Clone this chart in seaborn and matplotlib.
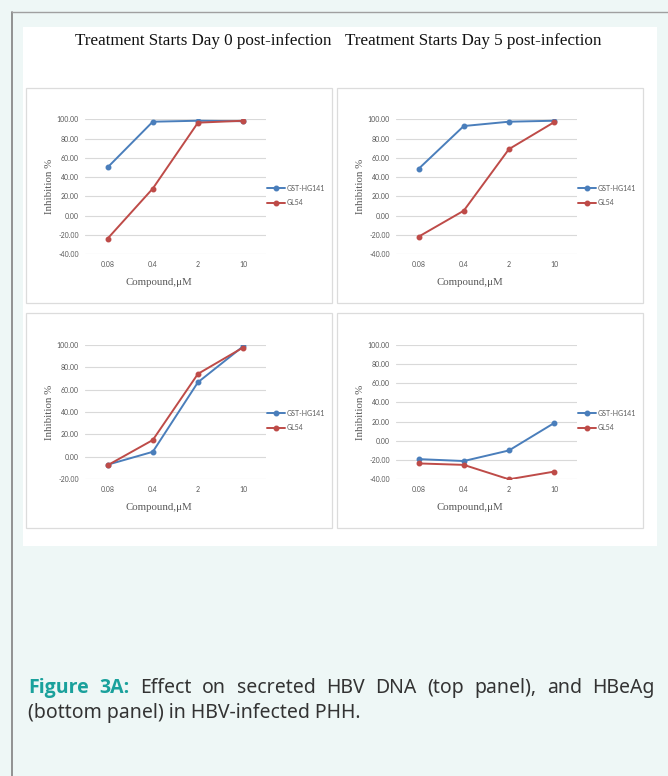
import matplotlib
matplotlib.use("Agg")
import matplotlib.pyplot as plt
import seaborn as sns
import pandas as pd
from matplotlib.patches import Rectangle
from matplotlib.lines import Line2D

# ---------------- data ----------------
concentrations = ["0.08", "0.4", "2", "10"]
series_names = ["GST-HG141", "GL54"]

dna_day0_gst = [50.0, 97.5, 98.5, 98.0]
dna_day0_gl54 = [-24.0, 28.0, 96.5, 98.5]
dna_day5_gst = [48.5, 93.0, 97.5, 98.5]
dna_day5_gl54 = [-22.0, 5.0, 69.0, 97.0]
hbeag_day0_gst = [-7.0, 4.5, 66.5, 98.5]
hbeag_day0_gl54 = [-7.5, 15.0, 74.0, 97.5]
hbeag_day5_gst = [-19.0, -21.0, -10.0, 18.5]
hbeag_day5_gl54 = [-23.5, -25.0, -40.0, -32.0]

y_ranges = [(-40, 100), (-40, 100), (-20, 100), (-40, 100)]
y_ticks = [[-40, -20, 0, 20, 40, 60, 80, 100],
           [-40, -20, 0, 20, 40, 60, 80, 100],
           [-20, 0, 20, 40, 60, 80, 100],
           [-40, -20, 0, 20, 40, 60, 80, 100]]

title_left = "Treatment Starts Day 0 post-infection"
title_right = "Treatment Starts Day 5 post-infection"
x_title = "Compound,μM"
y_title = "Inhibition %"
caption_bold = "Figure 3A:"
caption_line1 = "Effect on secreted HBV DNA (top panel), and HBeAg"
caption_line2 = "(bottom panel) in HBV-infected PHH."

# ---------------- figure ----------------
sns.set_theme(style="white")
plt.rcParams['font.family'] = ['Lato', 'DejaVu Sans']

W, H = 668, 776
fig = plt.figure(figsize=(W / 100, H / 100), dpi=100)
PAGE = "#eef7f6"
fig.patch.set_facecolor(PAGE)

def fx(x):
    return x / W

def fy(y):
    return 1 - y / H

def rect_px(x0, y0, x1, y1, **kw):
    fig.patches.append(Rectangle((fx(x0), fy(y1)), fx(x1) - fx(x0), fy(y0) - fy(y1),
                                 transform=fig.transFigure, **kw))

# page border lines
fig.add_artist(Line2D([fx(12.3), fx(12.3)], [fy(12.3), 0], transform=fig.transFigure,
                      color="#8a8a8a", lw=1.3, zorder=-3))
fig.add_artist(Line2D([fx(12.3), 1], [fy(12.3), fy(12.3)], transform=fig.transFigure,
                      color="#a0a0a0", lw=1.0, zorder=-3))

# white panel
rect_px(22.7, 27.3, 657.3, 545.7, facecolor="white", edgecolor="none", zorder=-2)

# chart boxes
boxes = [(26, 87.7, 331.7, 303.3), (337.3, 87.7, 643.3, 303.3),
         (26, 312.7, 331.7, 528.3), (337.3, 312.7, 643.3, 528.3)]
for b in boxes:
    rect_px(*b, facecolor="white", edgecolor="#dcdcdc", lw=0.9, zorder=-1)

# titles
fig.text(fx(75), fy(41), title_left, family="Liberation Serif", fontsize=12.25,
         color="#111111", ha="left", va="center")
fig.text(fx(345), fy(41), title_right, family="Liberation Serif", fontsize=12.25,
         color="#111111", ha="left", va="center")

# axes geometry (pixels): x0, x1, ytop, ybottom
axes_px = [(85, 265.7, 119.3, 254.0), (396, 576.7, 119.3, 254.0),
           (85, 265.7, 344.7, 479.3), (396, 576.7, 344.7, 479.3)]
xlabel_y = [282.3, 282.3, 507.5, 507.0]
ylabel_x = [49.3, 360.2, 49.3, 360.2]
data_sets = [(dna_day0_gst, dna_day0_gl54), (dna_day5_gst, dna_day5_gl54),
             (hbeag_day0_gst, hbeag_day0_gl54), (hbeag_day5_gst, hbeag_day5_gl54)]
legend_pos = [(267, 195.5), (578, 195.5), (267, 420.5), (578, 420.5)]

palette = {"GST-HG141": "#4a7ebb", "GL54": "#be4b48"}
GRAY = "#595959"

for (x0, x1, yt, yb), (gst, gl), yr, yt_list, lp, xly, ylx in zip(
        axes_px, data_sets, y_ranges, y_ticks, legend_pos, xlabel_y, ylabel_x):
    ax = fig.add_axes([fx(x0), fy(yb), fx(x1) - fx(x0), fy(yt) - fy(yb)])
    ax.set_facecolor("none")
    df = pd.DataFrame({
        "conc": concentrations * 2,
        "value": gst + gl,
        "series": [series_names[0]] * 4 + [series_names[1]] * 4,
    })
    sns.pointplot(data=df, x="conc", y="value", hue="series", order=concentrations,
                  hue_order=series_names, palette=palette, markers="o",
                  markersize=3.2, linewidth=1.4, errorbar=None, ax=ax)
    ax.set_xlim(-0.5, 3.5)
    ax.set_ylim(*yr)
    ax.set_yticks(yt_list)
    ax.set_yticklabels([f"{v:.2f}" for v in yt_list])
    ax.yaxis.grid(True, color="#d9d9d9", lw=0.8)
    ax.xaxis.grid(False)
    ax.set_axisbelow(True)
    for s in ax.spines.values():
        s.set_visible(False)
    ax.tick_params(axis="both", length=0, labelsize=5, labelcolor=GRAY)
    ax.tick_params(axis="y", pad=4.5)
    ax.tick_params(axis="x", pad=5.0)
    ax.set_xlabel(x_title, family="Liberation Serif", fontsize=7.8, color=GRAY, va="center")
    ax.set_ylabel(y_title, family="Liberation Serif", fontsize=7.8, color=GRAY, va="center")
    w = x1 - x0
    h = yb - yt
    ax.xaxis.set_label_coords(0.409, -(xly - yb) / h)
    ax.yaxis.set_label_coords(-(x0 - ylx) / w, 0.5)

    handles, labels = ax.get_legend_handles_labels()
    if ax.get_legend() is not None:
        ax.get_legend().remove()
    fig.legend(handles, labels, loc="center left",
               bbox_to_anchor=(fx(lp[0]), fy(lp[1])), bbox_transform=fig.transFigure,
               frameon=False, fontsize=5, labelcolor=GRAY, handlelength=2.6,
               handletextpad=0.25, labelspacing=1.05, borderpad=0, borderaxespad=0)

# caption: justified first line
TEAL = "#1aa19c"
CAP = "#333333"
cap_fam_reg = ['Noto Sans', 'DejaVu Sans']
cap_fam_bold = ['Open Sans', 'DejaVu Sans']
cap_size = 14
left_x, right_x = 28, 655
y1, y2 = 688, 713

fig.canvas.draw()
renderer = fig.canvas.get_renderer()
words = [(w_, True) for w_ in caption_bold.split()] + [(w_, False) for w_ in caption_line1.split()]
texts = []
total = 0
for wd, bold in words:
    t = fig.text(0, fy(y1), wd, family=cap_fam_bold if bold else cap_fam_reg,
                 fontsize=cap_size, fontweight="bold" if bold else "normal",
                 color=TEAL if bold else CAP, ha="left", va="center")
    bb = t.get_window_extent(renderer)
    texts.append((t, bb.width))
    total += bb.width
gap = (right_x - left_x - total) / (len(words) - 1)
cx = left_x
for t, wd in texts:
    t.set_x(fx(cx))
    cx += wd + gap

fig.text(fx(left_x), fy(y2), caption_line2, family=cap_fam_reg, fontsize=cap_size,
         color=CAP, ha="left", va="center")

fig.savefig("out.png", dpi=100, facecolor=PAGE)
